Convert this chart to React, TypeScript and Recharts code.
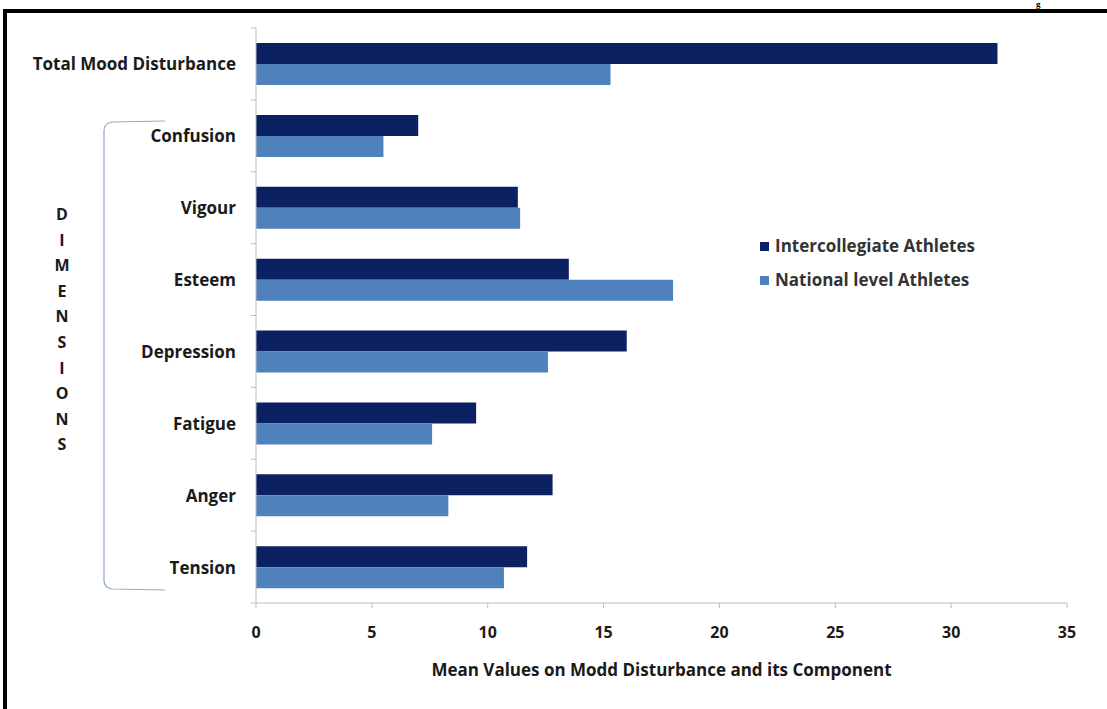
import React from 'react';
import { BarChart, Bar, XAxis, YAxis } from 'recharts';

const categories = [
  'Total Mood Disturbance',
  'Confusion',
  'Vigour',
  'Esteem',
  'Depression',
  'Fatigue',
  'Anger',
  'Tension',
];
const intercollegiate = [32.0, 7.0, 11.3, 13.5, 16.0, 9.5, 12.8, 11.7];
const nationalLevel = [15.3, 5.5, 11.4, 18.0, 12.6, 7.6, 8.3, 10.7];
const seriesNames = ['Intercollegiate Athletes', 'National level Athletes'];
const xTicks = [0, 5, 10, 15, 20, 25, 30, 35];
const dimensionLetters = 'DIMENSIONS'.split('');

const data = categories.map((name, i) => ({
  name,
  intercollegiate: intercollegiate[i],
  national: nationalLevel[i],
}));

const W = 1107;
const H = 709;
const MARGIN = { top: 28, right: 40, bottom: 27, left: 0 };
const Y_WIDTH = 256;
const X_HEIGHT = 79;
const PLOT_H = H - MARGIN.top - MARGIN.bottom - X_HEIGHT;
const BAND = PLOT_H / categories.length;

const FONT = '"Open Sans", sans-serif';
const DARK = '#0b2162';
const LIGHT = '#4f81bd';
const AXIS = '#bdbdbd';
const TEXT = '#1a1a1a';
const colors = [DARK, LIGHT];

function CategoryTick(props: any) {
  const { x, y, payload, index } = props;
  const axisX = x + 20;
  return (
    <g>
      <text
        x={x}
        y={y}
        textAnchor="end"
        dominantBaseline="central"
        fontFamily={FONT}
        fontWeight={700}
        fontSize={17}
        fill={TEXT}
      >
        {payload.value}
      </text>
      <line x1={axisX - 5} x2={axisX} y1={y - BAND / 2} y2={y - BAND / 2} stroke={AXIS} />
      {index === categories.length - 1 && (
        <line x1={axisX - 5} x2={axisX} y1={y + BAND / 2} y2={y + BAND / 2} stroke={AXIS} />
      )}
    </g>
  );
}

export default function App() {
  return (
    <div
      style={{
        position: 'absolute',
        left: 0,
        top: 0,
        width: W,
        height: H,
        overflow: 'hidden',
        background: '#fff',
      }}
    >
      <div style={{ position: 'absolute', left: 0, top: 0 }}>
        <BarChart
          width={W}
          height={H}
          data={data}
          layout="vertical"
          margin={MARGIN}
          barGap={0}
          barSize={21}
        >
          <XAxis
            type="number"
            domain={[0, 35]}
            ticks={xTicks}
            height={X_HEIGHT}
            axisLine={{ stroke: AXIS }}
            tickLine={{ stroke: AXIS }}
            tickSize={5}
            tickMargin={19}
            tick={{ fontFamily: FONT, fontWeight: 700, fontSize: 16, fill: TEXT }}
            label={{
              value: 'Mean Values on Modd Disturbance and its Component',
              position: 'insideBottom',
              offset: 6,
              style: { fontFamily: FONT, fontWeight: 700, fontSize: 17, fill: TEXT },
            }}
          />
          <YAxis
            type="category"
            dataKey="name"
            width={Y_WIDTH}
            axisLine={{ stroke: AXIS }}
            tickLine={false}
            tickSize={0}
            tickMargin={20}
            interval={0}
            tick={<CategoryTick />}
          />
          <Bar
            dataKey="intercollegiate"
            name={seriesNames[0]}
            fill={DARK}
            isAnimationActive={false}
          />
          <Bar
            dataKey="national"
            name={seriesNames[1]}
            fill={LIGHT}
            isAnimationActive={false}
          />
        </BarChart>
      </div>

      {/* legend */}
      <div
        style={{
          position: 'absolute',
          left: 760,
          top: 229,
          fontFamily: FONT,
          fontWeight: 700,
          fontSize: 17,
          lineHeight: '34px',
          color: '#333',
          whiteSpace: 'nowrap',
        }}
      >
        {seriesNames.map((n, i) => (
          <div key={n} style={{ display: 'flex', alignItems: 'center' }}>
            <span
              style={{
                display: 'inline-block',
                width: 9,
                height: 9,
                background: colors[i],
                marginRight: 6,
              }}
            />
            {n}
          </div>
        ))}
      </div>

      {/* DIMENSIONS label */}
      <div
        style={{
          position: 'absolute',
          left: 52,
          top: 202,
          width: 20,
          fontFamily: FONT,
          fontWeight: 700,
          fontSize: 16,
          lineHeight: '25.6px',
          textAlign: 'center',
          color: TEXT,
        }}
      >
        {dimensionLetters.map((ch, i) => (
          <div key={i}>{ch}</div>
        ))}
      </div>

      {/* bracket */}
      <svg style={{ position: 'absolute', left: 0, top: 0 }} width={W} height={H}>
        <path
          d="M165 121 L112 122 Q104 123 104 131 L104 580 Q104 588 112 589 L165 590"
          fill="none"
          stroke="#8fa8c8"
          strokeWidth={1.2}
        />
      </svg>

      {/* caption glyph at the top right */}
      <span
        style={{
          position: 'absolute',
          left: 1036,
          top: 0,
          fontFamily: '"Liberation Serif", serif',
          fontWeight: 700,
          fontSize: 9,
          lineHeight: '9px',
          color: '#000',
        }}
      >
        g
      </span>

      {/* frame */}
      <div style={{ position: 'absolute', left: 3, top: 9, width: W, height: 4, background: '#000' }} />
      <div style={{ position: 'absolute', left: 3, top: 9, width: 4, height: H, background: '#000' }} />
    </div>
  );
}
